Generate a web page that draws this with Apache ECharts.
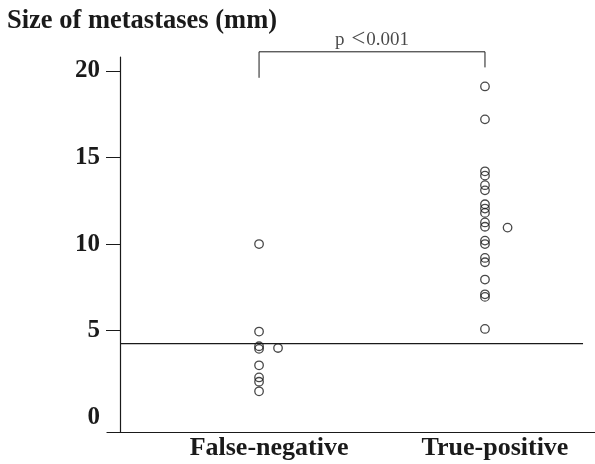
<!DOCTYPE html>
<html>
<head>
<meta charset="utf-8">
<script src="https://cdn.jsdelivr.net/npm/echarts@6/dist/echarts.min.js"></script>
<style>html,body{margin:0;padding:0;background:#fff}#c{width:595px;height:464px}</style>
</head>
<body>
<div id="c"></div>
<script>
// Data
const categories = ['False-negative', 'True-positive'];
const yTickLabels = [0, 5, 10, 15, 20];
const yTickMarks = [5, 10, 15, 20];
// group position (1 = False-negative, 2 = True-positive) and size in mm
const falseNegX = [1, 1, 1, 1, 1, 1, 1, 1, 1.084];
const falseNegY = [10.0, 4.95, 4.1, 3.95, 3.0, 2.3, 2.05, 1.5, 4.0];
const truePosX = [2, 2, 2, 2, 2, 2, 2, 2, 2, 2, 2, 2, 2, 2, 2, 2, 2, 2, 2, 2.1];
const truePosY = [19.1, 17.2, 14.2, 13.95, 13.4, 13.1, 12.3, 12.05, 11.8, 11.25, 11.0, 10.2, 10.0, 9.2, 8.95, 7.95, 7.1, 6.95, 5.1, 10.95];
const cutoffX = [0.385, 2.434];
const cutoffY = [4.25, 4.25];
const bracketX = [1, 1, 2, 2];
const bracketY = [19.6, 21.1, 21.1, 20.2];
const pParts = ['p ', '<', '0.001'];
const pPos = [1.5, 21.1];

const zip = (xs, ys) => xs.map((x, i) => [x, ys[i]]);
const serif = '"Liberation Serif", "DejaVu Serif", serif';
const ink = '#1a1a1a';

const chart = echarts.init(document.getElementById('c'));
chart.setOption({
  animation: false,
  backgroundColor: '#fff',
  title: {
    text: 'Size of metastases (mm)',
    left: 7, top: 8, padding: 0,
    textStyle: { fontFamily: serif, fontWeight: 'bold', fontSize: 26.5, color: ink }
  },
  grid: { left: 107, right: 0, top: 57, bottom: 32 },
  xAxis: {
    type: 'value', min: 0.327, max: 2.487,
    splitLine: { show: false },
    axisLine: { show: true, onZero: false, lineStyle: { color: ink, width: 1.2 } },
    axisTick: { show: false },
    axisLabel: {
      customValues: [1, 2],
      formatter: v => categories[Math.round(v) - 1],
      fontFamily: serif, fontWeight: 'bold', fontSize: 26, color: ink,
      margin: 3, padding: [0, 0, 0, 20]
    }
  },
  yAxis: {
    type: 'value', min: -0.85, max: 20.8, offset: -13,
    splitLine: { show: false },
    axisLine: { show: true, onZero: false, lineStyle: { color: ink, width: 1.2 } },
    axisTick: { show: true, customValues: yTickMarks, length: 14, lineStyle: { color: ink, width: 1 } },
    axisLabel: {
      customValues: yTickLabels, margin: 20,
      fontFamily: serif, fontWeight: 'bold', fontSize: 25, color: ink
    }
  },
  series: [
    {
      type: 'line', data: zip(cutoffX, cutoffY), symbol: 'none', silent: true,
      lineStyle: { color: ink, width: 1.2 }
    },
    {
      type: 'line', data: zip(bracketX, bracketY), symbol: 'none', clip: false, silent: true,
      lineStyle: { color: ink, width: 1 }
    },
    {
      type: 'scatter', data: zip(falseNegX, falseNegY), symbol: 'circle', symbolSize: 8.5,
      itemStyle: { color: 'rgba(255,255,255,0)', borderColor: ink, borderWidth: 1.3 }
    },
    {
      type: 'scatter', data: zip(truePosX, truePosY), symbol: 'circle', symbolSize: 8.5,
      itemStyle: { color: 'rgba(255,255,255,0)', borderColor: ink, borderWidth: 1.3 }
    },
    {
      type: 'scatter', data: [pPos], symbolSize: 0, clip: false, silent: true,
      label: { show: true, position: 'top', distance: 1,
        formatter: '{a|' + pParts[0] + '}{b|' + pParts[1] + '}{a|' + pParts[2] + '}',
        rich: {
          a: { fontFamily: serif, fontSize: 19, lineHeight: 22, color: ink, verticalAlign: 'middle' },
          b: { fontFamily: serif, fontSize: 25, lineHeight: 22, color: ink, verticalAlign: 'middle', padding: [0, 1, 0, 2] }
        }
      }
    }
  ]
});
</script>
</body>
</html>
